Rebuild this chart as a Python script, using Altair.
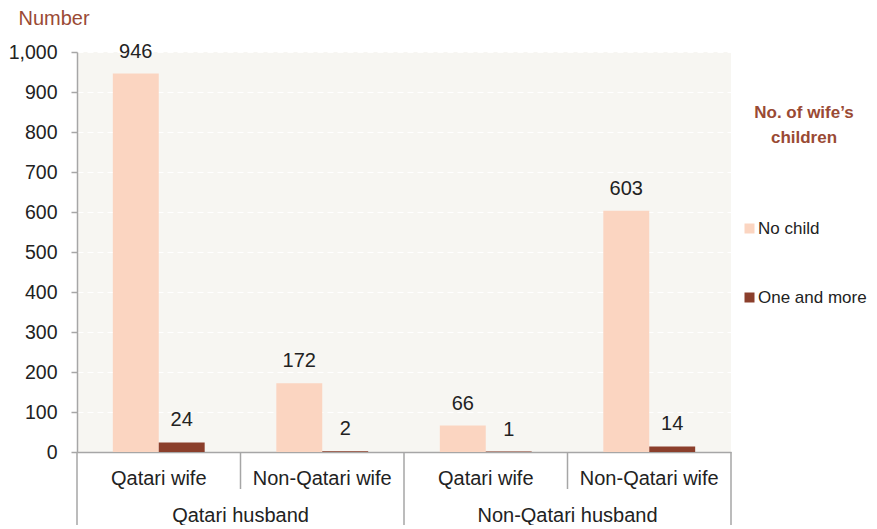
import altair as alt
import pandas as pd

# ---------------- data ----------------
husbands = ["Qatari husband", "Qatari husband", "Non-Qatari husband", "Non-Qatari husband"]
wives = ["Qatari wife", "Non-Qatari wife", "Qatari wife", "Non-Qatari wife"]
no_child = [946, 172, 66, 603]
one_and_more = [24, 2, 1, 14]
series = ["No child", "One and more"]
colors = ["#FBD5C1", "#8B3F2C"]
y_ticks = [0, 100, 200, 300, 400, 500, 600, 700, 800, 900, 1000]
legend_title = ["No. of wife\u2019s", "children"]
y_title = "Number"

keys = [f"{h} | {w}" for h, w in zip(husbands, wives)]
rows = []
for k, h, w, a, b in zip(keys, husbands, wives, no_child, one_and_more):
    rows.append(dict(key=k, husband=h, wife=w, series=series[0], value=a))
    rows.append(dict(key=k, husband=h, wife=w, series=series[1], value=b))
df = pd.DataFrame(rows)
cats = pd.DataFrame({"key": keys, "wife": wives, "husband": husbands})
first_of_husband = cats.drop_duplicates("husband", keep="first")
last_key = cats.tail(1)

W, H = 654, 400
GRAY = "#A6A6A6"
TXT = "#222222"
BROWN = "#9A4A34"

xscale = alt.Scale(domain=keys, paddingInner=0, paddingOuter=0)
xaxis = alt.Axis(labels=False, ticks=False, title=None, domain=True,
                 domainColor=GRAY, domainWidth=1.5, grid=False)


def X(bp=None):
    if bp is None:
        return alt.X("key:N", sort=keys, scale=xscale, axis=xaxis)
    return alt.X("key:N", sort=keys, scale=xscale, axis=xaxis, bandPosition=bp)


yaxis = alt.Axis(
    values=y_ticks, format=",d", title=y_title, titleAngle=0,
    titleAlign="left", titleBaseline="alphabetic", titleX=-59, titleY=-28,
    titleFontSize=20, titleFontWeight="normal", titleColor=BROWN,
    labelFontSize=19.5, labelColor=TXT, labelPadding=14, labelOverlap=False,
    tickSize=6, tickColor=GRAY, tickWidth=1.5,
    domainColor=GRAY, domainWidth=1.5,
    grid=True, gridColor="#FFFFFF", gridDash=[6, 4], gridWidth=1,
)
yscale = alt.Scale(domain=[0, 1000], nice=False)
yenc = alt.Y("value:Q", scale=yscale, axis=yaxis)

xoff = alt.XOffset("series:N", sort=series,
                   scale=alt.Scale(domain=series, paddingOuter=0.78, paddingInner=0))

base = alt.Chart(df)

bars = base.mark_bar().encode(
    x=X(), xOffset=xoff, y=yenc,
    color=alt.Color(
        "series:N", sort=series,
        scale=alt.Scale(domain=series, range=colors),
        legend=alt.Legend(
            title=legend_title, orient="none", legendX=664, legendY=53,
            symbolType="square", symbolSize=100, symbolStrokeWidth=0,
            labelFontSize=17, labelColor=TXT, labelOffset=0, labelLimit=200,
            titleFontSize=17, titleFontWeight="bold", titleColor=BROWN,
            titleAlign="center", titleAnchor="middle", titleLineHeight=25,
            titlePadding=73, rowPadding=51, padding=0,
        ),
    ),
)

labels = base.mark_text(fontSize=20, color=TXT, baseline="middle", dy=-22).encode(
    x=X(), xOffset=xoff, y=yenc, text=alt.Text("value:Q", format=",d")
)

wife_lbl = alt.Chart(cats).mark_text(fontSize=20, color=TXT, baseline="middle").encode(
    x=X(), y=alt.value(H + 27), text="wife:N"
)
husb_lbl = alt.Chart(first_of_husband).mark_text(fontSize=20, color=TXT, baseline="middle").encode(
    x=X(1), y=alt.value(H + 64), text="husband:N"
)

div_upper = alt.Chart(first_of_husband).mark_rule(color=GRAY, strokeWidth=1.5).encode(
    x=X(1), y=alt.value(H), y2=alt.value(H + 37)
)
div_lower_a = alt.Chart(first_of_husband).mark_rule(color=GRAY, strokeWidth=1.5).encode(
    x=X(0), y=alt.value(H), y2=alt.value(H + 90)
)
div_lower_b = alt.Chart(last_key).mark_rule(color=GRAY, strokeWidth=1.5).encode(
    x=X(1), y=alt.value(H), y2=alt.value(H + 90)
)

chart = (
    alt.layer(bars, labels, wife_lbl, husb_lbl, div_upper, div_lower_a, div_lower_b)
    .properties(
        width=W, height=H,
        autosize=alt.AutoSizeParams(type="none"),
        padding={"left": 69, "top": 44, "right": 138, "bottom": 73},
    )
    .configure(font="Liberation Sans")
    .configure_view(stroke=None, fill="#F7F6F2")
)

chart.save("out.html", embed_options={"renderer": "svg", "actions": False})
